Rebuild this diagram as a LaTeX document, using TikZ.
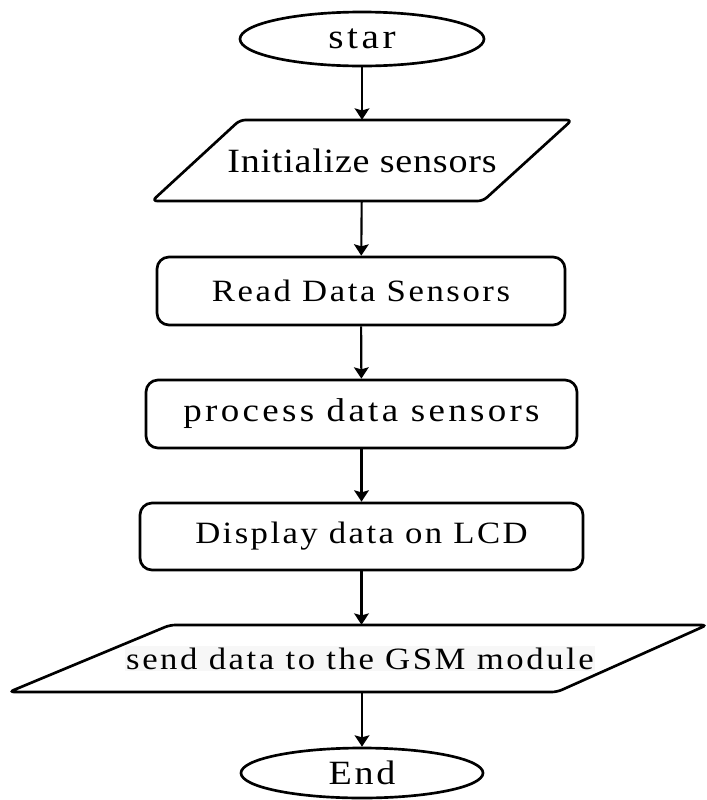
\documentclass[tikz,border=0pt]{standalone}
\usepackage{fontspec}
\setmainfont{Liberation Serif}
\usetikzlibrary{shapes.geometric,arrows.meta}
\newcommand{\lsp}[3]{\scalebox{1.12}[1]{\fontsize{#1}{#1}\selectfont\addfontfeature{LetterSpace=#2}#3}}
\tikzset{
  shapeline/.style={draw=black, line width=2pt, fill=white, inner sep=0pt, align=center},
  termbox/.style={shapeline, ellipse},
  procbox/.style={shapeline, rectangle, rounded corners=9pt},
  ioshape/.style={draw=black, line width=2pt, fill=white, rounded corners=4pt},
  iotext/.style={inner sep=0pt, align=center, rectangle},
  arr/.style={draw=black, line width=1.6pt, -{Stealth[length=8.5pt,width=11pt,inset=1.5pt]}}
}
\begin{document}
\begin{tikzpicture}[x=0.75pt,y=-0.75pt]
\useasboundingbox[fill=white] (0,0) rectangle (707,800);

\node[termbox, minimum width=183pt, minimum height=40.5pt] (start) at (362,39)
  {\lsp{26.25pt}{9}{star}};

\draw[ioshape] (152,201) -- (240,120) -- (572,120) -- (483,201) -- cycle;
\node[iotext, minimum width=240pt, minimum height=60.75pt] (init) at (362,160.5)
  {\lsp{25.5pt}{2}{Initialize sensors}};

\node[procbox, minimum width=306pt, minimum height=51pt] (read) at (361,291)
  {\lsp{23.25pt}{7.4}{Read Data Sensors}};

\node[procbox, minimum width=323.25pt, minimum height=51pt] (proc) at (361.5,414)
  {\lsp{24.75pt}{9}{process data sensors}};

\node[procbox, minimum width=332.25pt, minimum height=50.25pt] (disp) at (361.5,536.5)
  {\lsp{23.25pt}{7}{Display data on LCD}};

\draw[ioshape] (9,692) -- (170,625) -- (707,625) -- (557,692) -- cycle;
\node[iotext, minimum width=380pt, minimum height=50.25pt] (gsm) at (360,658.5)
  {\setlength{\fboxsep}{1pt}\colorbox{black!3}{\lsp{23.25pt}{7.4}{send data to the GSM module}}};

\node[termbox, minimum width=181.5pt, minimum height=37.5pt] (stop) at (362,773)
  {\lsp{25.5pt}{7}{End}};

\draw[arr] (start) -- (init);
\draw[arr] (init) -- (read);
\draw[arr] (read) -- (proc);
\draw[arr] (proc) -- (disp);
\draw[arr] (disp) -- (disp |- gsm.north);
\draw[arr] (gsm.south -| stop) -- (stop);
\end{tikzpicture}
\end{document}
